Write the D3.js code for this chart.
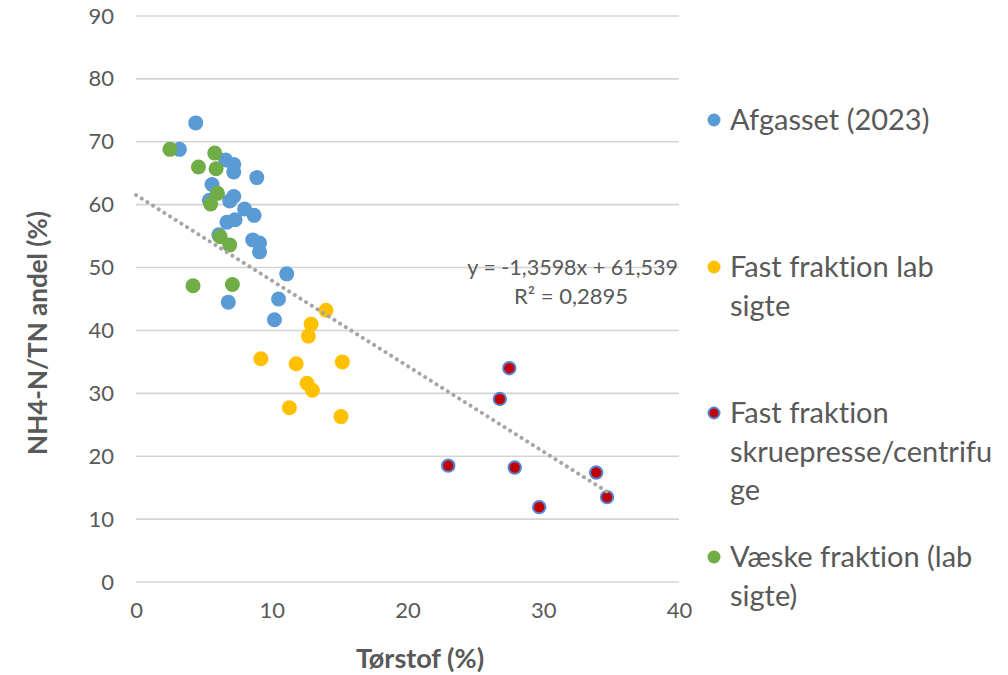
<!DOCTYPE html>
<html>
<head>
<meta charset="utf-8">
<script src="https://cdn.jsdelivr.net/npm/d3@7/dist/d3.min.js"></script>
<style>
  html, body { margin: 0; padding: 0; background: #fff; }
  svg text {
    font-family: Lato, "Open Sans", "Liberation Sans", sans-serif;
    fill: #595959;
    font-variant-ligatures: none;
    font-feature-settings: "liga" 0, "clig" 0;
  }
</style>
</head>
<body>
<svg id="chart" width="1008" height="675"></svg>
<script>
// Tørstof (%) vs NH4-N/TN andel (%) per sample group
const afgassetX = [4.4, 3.2, 6.6, 7.2, 7.2, 8.9, 5.6, 7.2, 6.9, 5.4, 8.0, 8.7, 6.7, 7.3, 6.1, 8.6, 9.1, 9.1, 11.1, 6.8, 10.5, 10.2];
const afgassetY = [73.0, 68.8, 67.1, 66.4, 65.2, 64.3, 63.2, 61.3, 60.6, 60.7, 59.3, 58.3, 57.2, 57.6, 55.2, 54.4, 53.9, 52.5, 49.0, 44.5, 45.0, 41.7];

const labSigteX = [14.0, 12.9, 12.7, 9.2, 11.8, 15.2, 12.6, 13.0, 11.3, 15.1];
const labSigteY = [43.2, 41.0, 39.1, 35.5, 34.7, 35.0, 31.6, 30.5, 27.7, 26.3];

const skruepresseX = [27.5, 26.8, 23.0, 27.9, 29.7, 33.9, 34.7];
const skruepresseY = [34.0, 29.1, 18.5, 18.2, 11.9, 17.4, 13.5];

const vaeskeX = [2.5, 5.8, 4.6, 5.9, 6.0, 5.5, 6.2, 6.9, 4.2, 7.1];
const vaeskeY = [68.8, 68.2, 66.0, 65.7, 61.8, 60.1, 54.9, 53.6, 47.1, 47.3];

const seriesNames = ["Afgasset (2023)", "Fast fraktion lab sigte", "Fast fraktion skruepresse/centrifuge", "Væske fraktion (lab sigte)"];
const xTicks = [0, 10, 20, 30, 40];
const yTicks = [0, 10, 20, 30, 40, 50, 60, 70, 80, 90];

// Linear trendline as reported: y = -1,3598x + 61,539
const trendSlope = -1.3598;
const trendIntercept = 61.539;
const trendRange = [0, 34.7];
const trendLabel = "y = -1,3598x + 61,539";
const r2Label = "R² = 0,2895";

const svg = d3.select("#chart");
const plot = { left: 136, right: 679, top: 16, bottom: 582 };

const x = d3.scaleLinear().domain([0, 40]).range([plot.left, plot.right]);
const y = d3.scaleLinear().domain([0, 90]).range([plot.bottom, plot.top]);

// Horizontal gridlines
svg.append("g")
  .selectAll("line")
  .data(yTicks)
  .join("line")
  .attr("x1", plot.left).attr("x2", plot.right)
  .attr("y1", d => y(d)).attr("y2", d => y(d))
  .attr("stroke", "#d4d4d4").attr("stroke-width", 1.6);

// Axes (labels only, no domain lines)
const yAxis = svg.append("g")
  .attr("transform", `translate(${plot.left},0)`)
  .call(d3.axisLeft(y).tickValues(yTicks).tickSize(0).tickPadding(22));
yAxis.select(".domain").remove();
yAxis.selectAll("text").attr("font-size", 22).attr("fill", "#595959")
  .style("font-family", "Lato, 'Open Sans', sans-serif");

const xAxis = svg.append("g")
  .attr("transform", `translate(0,${plot.bottom})`)
  .call(d3.axisBottom(x).tickValues(xTicks).tickSize(0).tickPadding(20));
xAxis.select(".domain").remove();
xAxis.selectAll("text").attr("font-size", 22).attr("fill", "#595959")
  .style("font-family", "Lato, 'Open Sans', sans-serif");

// Axis titles
svg.append("text")
  .attr("x", 420).attr("y", 668)
  .attr("text-anchor", "middle")
  .attr("font-size", 27).attr("font-weight", "bold")
  .text("Tørstof (%)");

svg.append("text")
  .attr("transform", "translate(47,333) rotate(-90)")
  .attr("text-anchor", "middle")
  .attr("font-size", 26).attr("font-weight", "bold")
  .text("NH4-N/TN andel (%)");

// Series definitions
const series = [
  { name: seriesNames[0], xs: afgassetX, ys: afgassetY, fill: "#5b9bd5", stroke: "#5b9bd5", sw: 0, r: 7.5 },
  { name: seriesNames[1], xs: labSigteX, ys: labSigteY, fill: "#ffc000", stroke: "#ffc000", sw: 0, r: 7.5 },
  { name: seriesNames[2], xs: skruepresseX, ys: skruepresseY, fill: "#c00000", stroke: "#5585d4", sw: 2, r: 6.2 },
  { name: seriesNames[3], xs: vaeskeX, ys: vaeskeY, fill: "#70ad47", stroke: "#70ad47", sw: 0, r: 7.5 }
];

series.forEach(s => {
  const pts = s.xs.map((v, i) => [v, s.ys[i]]);
  svg.append("g")
    .selectAll("circle")
    .data(pts)
    .join("circle")
    .attr("cx", d => x(d[0]))
    .attr("cy", d => y(d[1]))
    .attr("r", s.r)
    .attr("fill", s.fill)
    .attr("stroke", s.stroke)
    .attr("stroke-width", s.sw);
});

// Trendline (dotted)
const trendPts = trendRange.map(v => [v, trendSlope * v + trendIntercept]);
svg.append("path")
  .datum(trendPts)
  .attr("d", d3.line().x(d => x(d[0])).y(d => y(d[1])))
  .attr("fill", "none")
  .attr("stroke", "#a6a6a6")
  .attr("stroke-width", 4)
  .attr("stroke-linecap", "round")
  .attr("stroke-dasharray", "0.1 6.6");

// Trendline equation
svg.append("text")
  .attr("x", 678).attr("y", 275)
  .attr("text-anchor", "end")
  .attr("font-size", 21.5)
  .text(trendLabel);
svg.append("text")
  .attr("x", 571).attr("y", 304)
  .attr("text-anchor", "middle")
  .attr("font-size", 22)
  .text(r2Label);

// Legend
const legendItems = [
  { s: series[0], lines: ["Afgasset (2023)"], top: 120 },
  { s: series[1], lines: ["Fast fraktion lab", "sigte"], top: 267 },
  { s: series[2], lines: ["Fast fraktion", "skruepresse/centrifu", "ge"], top: 413 },
  { s: series[3], lines: ["Væske fraktion (lab", "sigte)"], top: 557 }
];
const legend = svg.append("g");
legendItems.forEach(item => {
  legend.append("circle")
    .attr("cx", 714).attr("cy", item.top)
    .attr("r", item.s.sw ? 5.5 : 6.5)
    .attr("fill", item.s.fill)
    .attr("stroke", item.s.stroke)
    .attr("stroke-width", item.s.sw ? 2 : 0);
  item.lines.forEach((ln, i) => {
    legend.append("text")
      .attr("x", 730)
      .attr("y", item.top + i * 38.5)
      .attr("dy", "0.35em")
      .attr("font-size", 29)
      .text(ln);
  });
});
</script>
</body>
</html>
